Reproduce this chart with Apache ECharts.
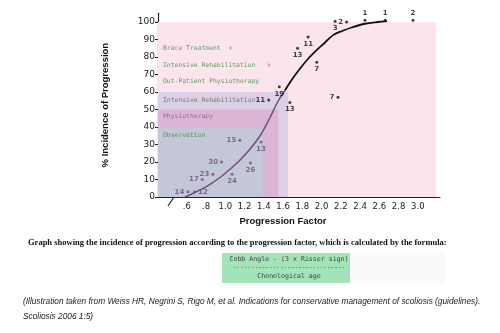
<!DOCTYPE html>
<html><head><meta charset="utf-8">
<script src="https://cdn.jsdelivr.net/npm/echarts@6/dist/echarts.min.js"></script>
<style>html,body{margin:0;padding:0;background:#fff}#c{width:500px;height:333px}</style>
</head><body><div id="c"></div>
<script>
// ---- data ----
const xTicks = [0.6,0.8,1.0,1.2,1.4,1.6,1.8,2.0,2.2,2.4,2.6,2.8,3.0];
const xTickLabels = ['.6','.8','1.0','1.2','1.4','1.6','1.8','2.0','2.2','2.4','2.6','2.8','3.0'];
const yTicks = [0,10,20,30,40,50,60,70,80,90,100];

const pointX = [0.61,0.68,0.76,0.87,0.96,1.07,1.15,1.26,1.37,1.45,1.56,1.67,1.75,1.86,1.95,2.17,2.14,2.26,2.45,2.66,2.95];
const pointY = [3,3,10,13,20,13,32.5,19.5,31.5,55.5,63,54,85,91.5,77,57,100.5,100,101,101,101];
const pointLabels = ['14','12','17','23','30','24','15','26','13','11','19','13','13','11','7','7','3','2','1','1','2'];
const labelSide = ['left','right','left','left','left','bottom','left','bottom','bottom','left','bottom','bottom','bottom','bottom','bottom','left','bottom','left','top','top','top'];

const curveX = [0.58,0.7,0.82,0.94,1.05,1.15,1.25,1.36,1.46,1.55,1.62,1.69,1.77,1.86,1.94,2.03,2.12,2.22,2.32,2.45,2.58,2.68];
const curveY = [0,3,6.5,11,16,21,27,35,45,55,61,67,73,79,83.5,88,92.5,95,97,99,100,100.5];

const zoneNames = ['Intensive Rehabilitation','Physiotherapy','Observation'];
const zoneXEnd = [1.65,1.55,1.39];
const zoneYTop = [60,50,40];
const zoneLabelY = [55.5,46,35.5];
const fieldXEnd = 3.19;
const fieldYTop = 100;

const treatmentNames = ['Brace Treatment  +','Intensive Rehabilitation   +','Out-Patient Physiotherapy'];
const treatmentY = [85,75.5,66];

const xMin = 0.3, xMax = 3.23, yMax = 105;

// ---- chart ----
const chart = echarts.init(document.getElementById('c'), null, {renderer:'canvas'});
const purple = '#6e4f7e';
const split = 10; // curve index where line turns black
const lowCurve = curveX.slice(0, split+1).map((x,i)=>[x, curveY[i]]);
const highCurve = curveX.slice(split).map((x,i)=>[x, curveY[i+split]]);

const zoneColors = ['#dcd0e6','#dab5d5','#c3c7d7'];
const zoneTextColors = ['#4d6e4d','#8a5a86','#3f8a4a'];

const markAreaData = [[{xAxis:xMin, yAxis:0, itemStyle:{color:'#fbe4ec'}},{xAxis:fieldXEnd, yAxis:fieldYTop}]];
zoneNames.forEach((n,i)=>{
  markAreaData.push([{xAxis:xMin, yAxis:0, itemStyle:{color:zoneColors[i]}},
    {xAxis:zoneXEnd[i], yAxis:zoneYTop[i]}]);
});

const labelData = treatmentNames.map((n,i)=>({value:[xMin, treatmentY[i]], name:n, label:{color:'#3f8a4a'}}))
  .concat(zoneNames.map((n,i)=>({value:[xMin, zoneLabelY[i]], name:n, label:{color:zoneTextColors[i]}})));

const option = {
  animation:false,
  grid:{left:158, right:60, top:13.25, bottom:136},
  xAxis:{type:'value', min:xMin, max:xMax,
    name:'Progression Factor', nameLocation:'middle', nameGap:11,
    nameTextStyle:{fontFamily:'Liberation Sans', fontWeight:'bold', fontSize:9.5, color:'#111', padding:[0,32,0,0]},
    axisLine:{lineStyle:{color:'#222', width:1.2}},
    axisTick:{show:true, inside:true, length:4, customValues:xTicks, lineStyle:{color:'#222'}},
    axisLabel:{customValues:xTicks, formatter:v=>{const i=xTicks.findIndex(t=>Math.abs(t-v)<1e-6);return i>=0?xTickLabels[i]:'';},
      fontFamily:'DejaVu Sans', fontSize:8.5, color:'#222', margin:5},
    splitLine:{show:false}},
  yAxis:{type:'value', min:0, max:yMax,
    name:'% Incidence of Progression', nameLocation:'middle', nameGap:48, nameRotate:90,
    nameTextStyle:{fontFamily:'Liberation Sans', fontWeight:'bold', fontSize:9.5, color:'#111'},
    axisLine:{show:true, lineStyle:{color:'#222', width:1.2}},
    axisTick:{show:true, length:3, customValues:yTicks, lineStyle:{color:'#222'}},
    axisLabel:{customValues:yTicks, fontFamily:'DejaVu Sans', fontSize:9, color:'#222', margin:3},
    splitLine:{show:false}},
  series:[
    {type:'line', data:lowCurve, smooth:0.35, symbol:'none', lineStyle:{color:purple, width:1.5}, z:3,
     markArea:{silent:true, data:markAreaData}},
    {type:'line', data:highCurve, smooth:0.35, symbol:'none', lineStyle:{color:'#111', width:1.8}, z:3},
    {type:'scatter', symbolSize:3, z:4,
     data:pointX.map((x,i)=>({value:[x,pointY[i]],
       itemStyle:{color: pointY[i]<45 ? purple : '#111'},
       label:{show:true, formatter:pointLabels[i], position:labelSide[i], distance:2,
         color: pointY[i]<45 ? purple : '#111', fontFamily:'DejaVu Sans', fontSize:7, fontWeight:'bold'}}))},
    {type:'scatter', symbolSize:0, silent:true, z:4, data:labelData,
     label:{show:true, position:'right', distance:5, formatter:'{b}', fontFamily:'DejaVu Sans Mono', fontSize:6.4}}
  ],
  graphic:[
    {type:'line', shape:{x1:168,y1:206,x2:174,y2:197}, style:{stroke:'#222', lineWidth:1.2}},
    {type:'text', left:28, top:238, style:{text:'Graph showing the incidence of progression according to the progression factor, which is calculated by the formula:', font:'bold 8.5px "Liberation Serif"', fill:'#111'}},
    {type:'rect', shape:{x:352,y:253,width:93,height:30}, style:{fill:'#fafafa'}},
    {type:'rect', shape:{x:222,y:253,width:128,height:30}, style:{fill:'#a2e3b8'}},
    {type:'text', x:289, y:259, style:{text:'Cobb Angle - (3 x Risser sign)', font:'6.6px "DejaVu Sans Mono"', fill:'#444', align:'center', verticalAlign:'middle'}},
    {type:'text', x:289, y:267.5, style:{text:'-------------------------------', font:'6px "DejaVu Sans Mono"', fill:'#444', align:'center', verticalAlign:'middle'}},
    {type:'text', x:289, y:276, style:{text:'Chonological age', font:'6.6px "DejaVu Sans Mono"', fill:'#444', align:'center', verticalAlign:'middle'}},
    {type:'text', left:23, top:298, style:{text:'(Illustration taken from Weiss HR, Negrini S, Rigo M, et al. Indications for conservative management of scoliosis (guidelines).', font:'italic 8.3px "Liberation Sans"', fill:'#222'}},
    {type:'text', left:23, top:313, style:{text:'Scoliosis 2006 1:5)', font:'italic 8.3px "Liberation Sans"', fill:'#222'}}
  ]
};
chart.setOption(option);
</script>
</body></html>
